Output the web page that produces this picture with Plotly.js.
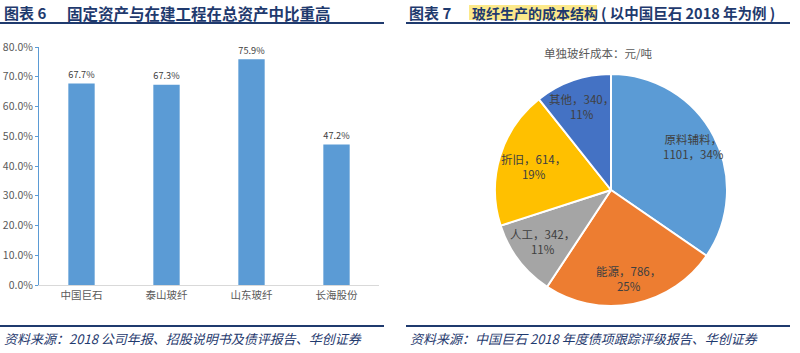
<!DOCTYPE html>
<html>
<head>
<meta charset="utf-8">
<script src="https://cdn.plot.ly/plotly-3.0.1.min.js"></script>
<style>html,body{margin:0;padding:0;background:#fff;}#chart{width:800px;height:353px;}</style>
</head>
<body>
<div id="chart"></div>
<script>
// ---- data ----
const barCategories = ['中国巨石', '泰山玻纤', '山东玻纤', '长海股份'];
const barValues = [67.7, 67.3, 75.9, 47.2];
const yTickVals = [0, 10, 20, 30, 40, 50, 60, 70, 80];
const yTickText = ['0.0%', '10.0%', '20.0%', '30.0%', '40.0%', '50.0%', '60.0%', '70.0%', '80.0%'];

const pieLabels = ['原料辅料', '能源', '人工', '折旧', '其他'];
const pieValues = [1101, 786, 342, 614, 340];
const piePctText = ['34%', '25%', '11%', '19%', '11%'];

const leftTitleNo = '图表 6';
const leftTitle = '固定资产与在建工程在总资产中比重高';
const rightTitleNo = '图表 7';
const rightTitleHi = '玻纤生产的成本结构';
const rightTitleRest = '( 以中国巨石 2018 年为例 )';
const pieSubtitle = '单独玻纤成本：元/吨';
const leftSource = '资料来源：2018 公司年报、招股说明书及债评报告、华创证券';
const rightSource = '资料来源：中国巨石 2018 年度债项跟踪评级报告、华创证券';

// ---- helpers ----
const W = 800, H = 353;
const px = x => x / W;
const py = y => 1 - y / H;
const FONT = '"Noto Sans CJK SC", "Noto Sans", sans-serif';
const NAVY = '#1F3A6E';

// pie geometry (layout only)
const PCX = 611, PCY = 190, PR = 116;
const labelRadius = [0.8, 0.78, 0.74, 0.7, 0.76];
const total = pieValues.reduce((a, b) => a + b, 0);
let cum = 0;
const pieAnnotations = pieValues.map((v, i) => {
  const mid = (cum + v / 2) / total * 2 * Math.PI;
  cum += v;
  const r = PR * labelRadius[i];
  const x = PCX + r * Math.sin(mid);
  const y = PCY - r * Math.cos(mid);
  const txt = i === 0
    ? pieLabels[i] + '，<br>' + v + '，' + piePctText[i]
    : pieLabels[i] + '，' + v + '，<br>' + piePctText[i];
  return {xref: 'paper', yref: 'paper', x: px(x), y: py(y), xanchor: 'center', yanchor: 'middle',
    showarrow: false, text: txt, align: 'center',
    font: {family: FONT, size: 11.5, color: '#404040'}};
});

const data = [
  {
    type: 'bar',
    x: barCategories,
    y: barValues,
    marker: {color: '#5B9BD5'},
    width: 0.31,
    text: barValues.map(v => v.toFixed(1) + '%'),
    textposition: 'outside',
    cliponaxis: false,
    textfont: {family: FONT, size: 11, color: '#404040'},
    hoverinfo: 'none'
  },
  {
    type: 'pie',
    labels: pieLabels,
    values: pieValues,
    textinfo: 'none',
    sort: false,
    direction: 'clockwise',
    rotation: 0,
    marker: {colors: ['#5B9BD5', '#ED7D31', '#A5A5A5', '#FFC000', '#4472C4'], line: {color: '#ffffff', width: 2}},
    showlegend: false,
    domain: {x: [px(PCX - PR), px(PCX + PR)], y: [py(PCY + PR), py(PCY - PR)]},
    hoverinfo: 'none'
  }
];

const layout = {
  width: W, height: H,
  margin: {l: 0, r: 0, t: 0, b: 0},
  paper_bgcolor: '#ffffff',
  plot_bgcolor: '#ffffff',
  showlegend: false,
  font: {family: FONT, color: '#595959'},
  xaxis: {
    domain: [px(39), px(379)],
    showline: true, linecolor: '#D9D9D9', linewidth: 1,
    ticks: '', showgrid: false, zeroline: false,
    tickfont: {family: FONT, size: 10.5, color: '#595959'},
    fixedrange: true
  },
  yaxis: {
    domain: [py(285), py(47)],
    range: [0, 80],
    tickvals: yTickVals, ticktext: yTickText,
    showline: true, linecolor: '#5B9BD5', linewidth: 1,
    ticks: 'outside', ticklen: 3, tickcolor: '#5B9BD5',
    showgrid: false, zeroline: false,
    tickfont: {family: FONT, size: 10.5, color: '#595959'},
    fixedrange: true
  },
  shapes: [
    {type: 'line', xref: 'paper', yref: 'paper', x0: px(0), x1: px(384), y0: py(23), y1: py(23), line: {color: NAVY, width: 2}},
    {type: 'line', xref: 'paper', yref: 'paper', x0: px(406), x1: px(790), y0: py(23), y1: py(23), line: {color: NAVY, width: 2}},
    {type: 'line', xref: 'paper', yref: 'paper', x0: px(0), x1: px(384), y0: py(326), y1: py(326), line: {color: NAVY, width: 2}},
    {type: 'line', xref: 'paper', yref: 'paper', x0: px(406), x1: px(790), y0: py(326), y1: py(326), line: {color: NAVY, width: 2}},
    {type: 'rect', xref: 'paper', yref: 'paper', x0: px(469), x1: px(597), y0: py(20), y1: py(5), line: {width: 0}, fillcolor: '#FCE98A', layer: 'below'}
  ],
  annotations: [
    {xref: 'paper', yref: 'paper', x: px(2), y: py(13), xanchor: 'left', yanchor: 'middle', showarrow: false,
     text: '<b>' + leftTitleNo + '</b>', font: {family: FONT, size: 15, color: NAVY}},
    {xref: 'paper', yref: 'paper', x: px(65), y: py(13), xanchor: 'left', yanchor: 'middle', showarrow: false,
     text: '<b>' + leftTitle + '</b>', font: {family: FONT, size: 15.5, color: NAVY}},
    {xref: 'paper', yref: 'paper', x: px(407), y: py(13), xanchor: 'left', yanchor: 'middle', showarrow: false,
     text: '<b>' + rightTitleNo + '</b>', font: {family: FONT, size: 15, color: NAVY}},
    {xref: 'paper', yref: 'paper', x: px(470), y: py(13), xanchor: 'left', yanchor: 'middle', showarrow: false,
     text: '<b>' + rightTitleHi + '</b>', font: {family: FONT, size: 14, color: NAVY}},
    {xref: 'paper', yref: 'paper', x: px(599), y: py(13), xanchor: 'left', yanchor: 'middle', showarrow: false,
     text: '<b>' + rightTitleRest + '</b>', font: {family: FONT, size: 14.5, color: NAVY}},
    {xref: 'paper', yref: 'paper', x: px(598), y: py(53), xanchor: 'center', yanchor: 'middle', showarrow: false,
     text: pieSubtitle, font: {family: FONT, size: 11.5, color: '#595959'}},
    {xref: 'paper', yref: 'paper', x: px(2), y: py(338), xanchor: 'left', yanchor: 'middle', showarrow: false,
     text: '<i>' + leftSource + '</i>', font: {family: FONT, size: 13, color: NAVY}},
    {xref: 'paper', yref: 'paper', x: px(408), y: py(338), xanchor: 'left', yanchor: 'middle', showarrow: false,
     text: '<i>' + rightSource + '</i>', font: {family: FONT, size: 13, color: NAVY}}
  ].concat(pieAnnotations)
};

Plotly.newPlot('chart', data, layout, {staticPlot: true, displayModeBar: false});
</script>
</body>
</html>
